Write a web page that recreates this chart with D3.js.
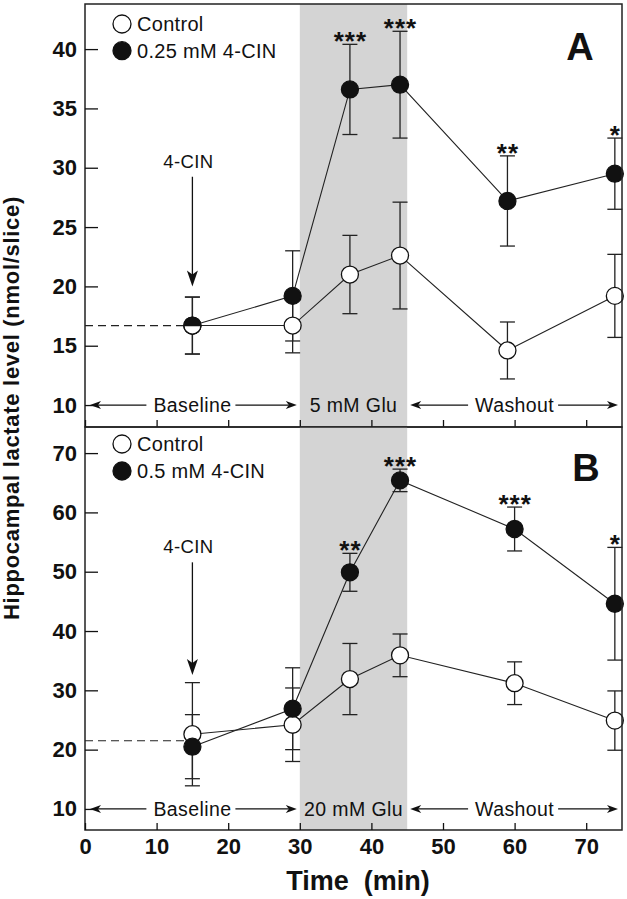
<!DOCTYPE html>
<html><head><meta charset="utf-8">
<script src="https://cdn.jsdelivr.net/npm/d3@7"></script>
<style>
html,body{margin:0;padding:0;background:#fff;}
svg{display:block;font-family:"Liberation Sans",Arial,Helvetica,sans-serif;}
</style></head><body>
<svg id="chart" width="627" height="899"></svg>
<script>
// ---------- data ----------
const xTicks = [0, 10, 20, 30, 40, 50, 60, 70];
const phaseBounds = [0, 30, 45, 75];

const timesA = [15, 29, 37, 44, 59, 74];
const controlA = [16.7, 16.7, 21.0, 22.6, 14.6, 19.2];
const controlErrA = [2.4, 2.3, 3.3, 4.5, 2.4, 3.5];
const cinA = [16.7, 19.2, 36.6, 37.0, 27.2, 29.5];
const cinErrA = [2.4, 3.8, 3.8, 4.5, 3.8, 3.0];
const starsA = ["", "", "***", "***", "**", "*"];
const yTicksA = [10, 15, 20, 25, 30, 35, 40];
const phasesA = ["Baseline", "5 mM Glu", "Washout"];
const legendA = ["Control", "0.25 mM 4-CIN"];
const baselineA = 16.7;
const arrowA = {t: 15, label: "4-CIN", labelY: 30.0, tip: 20.0};

const timesB = [15, 29, 37, 44, 60, 74];
const controlB = [22.6, 24.2, 31.9, 35.9, 31.2, 24.9];
const controlErrB = [8.7, 6.2, 6.0, 3.6, 3.6, 5.0];
const cinB = [20.5, 26.9, 49.9, 65.4, 57.2, 44.6];
const cinErrB = [5.4, 6.9, 3.2, 1.9, 3.7, 9.5];
const starsB = ["", "", "**", "***", "***", "*"];
const yTicksB = [10, 20, 30, 40, 50, 60, 70];
const phasesB = ["Baseline", "20 mM Glu", "Washout"];
const legendB = ["Control", "0.5 mM 4-CIN"];
const baselineB = 21.5;
const arrowB = {t: 15, label: "4-CIN", labelY: 53.1, tip: 32.6};

const yTitle = "Hippocampal lactate level (nmol/slice)";
const xTitle = "Time  (min)";

// ---------- drawing ----------
const svg = d3.select("#chart");
const x = d3.scaleLinear().domain([0, 75]).range([85, 622]);

const panels = [
  {times: timesA, ctrl: controlA, ctrlErr: controlErrA, drug: cinA, drugErr: cinErrA,
   stars: starsA, yTicks: yTicksA, phases: phasesA, legend: legendA, tag: "A",
   baseline: baselineA, arrow: arrowA, showX: false,
   y: d3.scaleLinear().domain([8.15, 43.8]).range([427, 4]), legendDy: [20, 46.7], tagDx: 580, tagDy: 56},
  {times: timesB, ctrl: controlB, ctrlErr: controlErrB, drug: cinB, drugErr: cinErrB,
   stars: starsB, yTicks: yTicksB, phases: phasesB, legend: legendB, tag: "B",
   baseline: baselineB, arrow: arrowB, showX: true,
   y: d3.scaleLinear().domain([6.45, 74.4]).range([830, 427]), legendDy: [17, 44], tagDx: 586, tagDy: 54}
];

const R = 8.5, CAP = 7.5;

panels.forEach(p => {
  const y = p.y;
  const top = y.range()[1], bot = y.range()[0];
  const g = svg.append("g");

  // glutamate shading
  g.append("rect")
    .attr("x", x(phaseBounds[1])).attr("y", top)
    .attr("width", x(phaseBounds[2]) - x(phaseBounds[1])).attr("height", bot - top)
    .attr("fill", "#d4d4d4");

  // dashed baseline
  g.append("line")
    .attr("x1", x(0)).attr("x2", x(p.times[0]))
    .attr("y1", y(p.baseline)).attr("y2", y(p.baseline))
    .attr("stroke", "#222").attr("stroke-width", 1.2).attr("stroke-dasharray", "8,5");

  const ctrlPts = p.times.map((t, i) => ({t, v: p.ctrl[i], e: p.ctrlErr[i]}));
  const drugPts = p.times.map((t, i) => ({t, v: p.drug[i], e: p.drugErr[i], s: p.stars[i]}));
  const line = d3.line().x(d => x(d.t)).y(d => y(d.v));

  [ctrlPts, drugPts].forEach(pts => {
    g.append("path").datum(pts).attr("d", line)
      .attr("fill", "none").attr("stroke", "#222").attr("stroke-width", 1.1);
  });

  // error bars
  [ctrlPts, drugPts].forEach(pts => {
    const eb = g.append("g").attr("stroke", "#222").attr("stroke-width", 1.3);
    pts.forEach(d => {
      const cx = x(d.t), y1 = y(d.v + d.e), y2 = y(d.v - d.e);
      eb.append("line").attr("x1", cx).attr("x2", cx).attr("y1", y1).attr("y2", y2);
      eb.append("line").attr("x1", cx - CAP).attr("x2", cx + CAP).attr("y1", y1).attr("y2", y1);
      eb.append("line").attr("x1", cx - CAP).attr("x2", cx + CAP).attr("y1", y2).attr("y2", y2);
    });
  });

  // markers
  g.selectAll(null).data(ctrlPts).enter().append("circle")
    .attr("cx", d => x(d.t)).attr("cy", d => y(d.v)).attr("r", R)
    .attr("fill", "#fff").attr("stroke", "#111").attr("stroke-width", 1.3);
  g.selectAll(null).data(drugPts).enter().append("circle")
    .attr("cx", d => x(d.t)).attr("cy", d => y(d.v)).attr("r", R)
    .attr("fill", "#111").attr("stroke", "#111").attr("stroke-width", 1.3);
  // coincident points: lower half white
  drugPts.forEach((d, i) => {
    if (Math.abs(d.v - ctrlPts[i].v) < 0.05) {
      const cx = x(d.t), cy = y(d.v);
      g.append("path")
        .attr("d", `M${cx - R},${cy} A${R},${R} 0 0 0 ${cx + R},${cy} Z`)
        .attr("fill", "#fff").attr("stroke", "#111").attr("stroke-width", 1.3);
    }
  });

  // significance stars
  g.selectAll(null).data(drugPts.filter(d => d.s)).enter().append("text")
    .attr("x", d => x(d.t) + 0.5).attr("y", d => y(d.v + d.e) + 6)
    .attr("text-anchor", "middle").attr("font-size", 26).attr("font-weight", "bold")
    .attr("letter-spacing", 1).attr("fill", "#111")
    .text(d => d.s);

  // legend
  p.legend.forEach((lab, i) => {
    const cy = top + p.legendDy[i];
    g.append("circle").attr("cx", 122).attr("cy", cy).attr("r", 9)
      .attr("fill", i === 0 ? "#fff" : "#111").attr("stroke", "#111").attr("stroke-width", 1.3);
    g.append("text").attr("x", 137).attr("y", cy + 7)
      .attr("font-size", 20).attr("letter-spacing", 0.3).attr("fill", "#111").text(lab);
  });

  // panel tag
  g.append("text").attr("x", p.tagDx).attr("y", top + p.tagDy)
    .attr("text-anchor", "middle").attr("font-size", 38).attr("font-weight", "bold")
    .attr("fill", "#111").text(p.tag);

  // 4-CIN arrow
  const ax = x(p.arrow.t);
  g.append("text").attr("x", ax - 4).attr("y", y(p.arrow.labelY))
    .attr("text-anchor", "middle").attr("font-size", 18.5).attr("letter-spacing", 0.4)
    .attr("fill", "#111").text(p.arrow.label);
  const tipY = y(p.arrow.tip);
  g.append("line").attr("x1", ax).attr("x2", ax)
    .attr("y1", y(p.arrow.labelY) + 9).attr("y2", tipY - 10)
    .attr("stroke", "#111").attr("stroke-width", 1.3);
  g.append("path")
    .attr("d", `M${ax},${tipY} L${ax - 5.5},${tipY - 16} L${ax},${tipY - 12} L${ax + 5.5},${tipY - 16} Z`)
    .attr("fill", "#111");

  // phase labels
  const ly = y(10);
  p.phases.forEach((lab, i) => {
    const a = phaseBounds[i], b = phaseBounds[i + 1];
    const cx = (x(a) + x(b)) / 2;
    const t = g.append("text").attr("x", cx).attr("y", ly + 7)
      .attr("text-anchor", "middle").attr("font-size", 19.5).attr("letter-spacing", 0.4)
      .attr("fill", "#111").text(lab);
    if (i !== 1) {
      const w = t.node().getComputedTextLength();
      const left = x(a) + (i === 0 ? 5 : 3), right = x(b) - (i === 0 ? 3 : 4);
      const tl = cx - w / 2 - 7, tr = cx + w / 2 + 4;
      g.append("line").attr("x1", left + 8).attr("x2", tl).attr("y1", ly).attr("y2", ly)
        .attr("stroke", "#111").attr("stroke-width", 1.2);
      g.append("line").attr("x1", tr).attr("x2", right - 8).attr("y1", ly).attr("y2", ly)
        .attr("stroke", "#111").attr("stroke-width", 1.2);
      g.append("path").attr("d", `M${left},${ly} L${left + 11},${ly - 4} L${left + 8},${ly} L${left + 11},${ly + 4} Z`).attr("fill", "#111");
      g.append("path").attr("d", `M${right},${ly} L${right - 11},${ly - 4} L${right - 8},${ly} L${right - 11},${ly + 4} Z`).attr("fill", "#111");
    }
  });

  // frame
  g.append("rect").attr("x", x(0)).attr("y", top).attr("width", x(75) - x(0)).attr("height", bot - top)
    .attr("fill", "none").attr("stroke", "#222").attr("stroke-width", 1.5);

  // y axis
  const yAx = g.append("g").attr("transform", `translate(${x(0)},0)`)
    .call(d3.axisLeft(y).tickValues(p.yTicks).tickSize(-13).tickPadding(8).tickFormat(d3.format("d")));
  yAx.select(".domain").remove();
  yAx.selectAll(".tick line").attr("stroke", "#111").attr("stroke-width", 1.3);
  yAx.selectAll(".tick text").attr("font-size", 22).attr("font-weight", "bold")
    .attr("font-family", "Liberation Sans, Arial, sans-serif").attr("fill", "#111");

  // x axis
  const xAx = g.append("g").attr("transform", `translate(0,${bot})`)
    .call(d3.axisBottom(x).tickValues(xTicks).tickSize(-7).tickPadding(8)
      .tickFormat(p.showX ? d3.format("d") : () => ""));
  xAx.select(".domain").remove();
  xAx.selectAll(".tick line").attr("stroke", "#111").attr("stroke-width", 1.3);
  xAx.selectAll(".tick text").attr("font-size", 22).attr("font-weight", "bold")
    .attr("font-family", "Liberation Sans, Arial, sans-serif").attr("fill", "#111");
});

// axis titles
svg.append("text").attr("transform", "translate(19,408) rotate(-90)")
  .attr("text-anchor", "middle").attr("font-size", 22).attr("font-weight", "bold")
  .attr("letter-spacing", 0.7).attr("fill", "#111").text(yTitle);
svg.append("text").attr("x", 358).attr("y", 890)
  .attr("text-anchor", "middle").attr("font-size", 27).attr("font-weight", "bold")
  .style("white-space", "pre").attr("fill", "#111").text(xTitle);
</script>
</body></html>
